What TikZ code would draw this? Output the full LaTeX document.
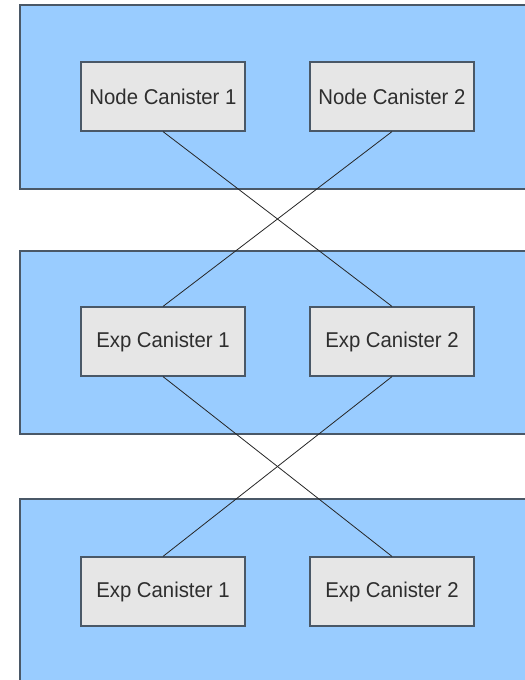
\documentclass[tikz,border=0pt]{standalone}
\usepackage{fontspec}
\setmainfont{Liberation Sans}
\newfontfamily\canisterfont{Liberation Sans}[FakeStretch=0.95]
\definecolor{panelblue}{HTML}{99CCFF}
\definecolor{edgegrey}{HTML}{4A5867}
\definecolor{boxgrey}{HTML}{E6E6E6}
\definecolor{textgrey}{HTML}{2E2E2E}
\tikzset{
  panel/.style={draw=edgegrey,fill=panelblue,line width=1.3bp},
  canister/.style={draw=edgegrey,fill=boxgrey,line width=1.2bp,
    minimum width=164bp,minimum height=69bp,inner sep=0pt,
    text=textgrey,font=\canisterfont\fontsize{21.5}{25}\selectfont},
  link/.style={draw=black!85,line width=0.8bp}
}
\begin{document}
\begin{tikzpicture}[x=1bp,y=-1bp]
\useasboundingbox (0,0) rectangle (525,680);
\clip (0,0) rectangle (525,680);
% panels
\draw[panel] (20,5) rectangle (540,189);
\draw[panel] (20,251) rectangle (540,434);
\draw[panel] (20,499) rectangle (540,700);
% top panel
\node[canister] (nc1) at (163,96.5) {Node Canister 1};
\node[canister] (nc2) at (392,96.5) {Node Canister 2};
% middle panel
\node[canister] (ec1) at (163,341.5) {Exp Canister 1};
\node[canister] (ec2) at (392,341.5) {Exp Canister 2};
% bottom panel
\node[canister] (ed1) at (163,591.5) {Exp Canister 1};
\node[canister] (ed2) at (392,591.5) {Exp Canister 2};
% cross links
\draw[link] (nc1.south) -- (ec2.north);
\draw[link] (nc2.south) -- (ec1.north);
\draw[link] (ec1.south) -- (ed2.north);
\draw[link] (ec2.south) -- (ed1.north);
\end{tikzpicture}
\end{document}
